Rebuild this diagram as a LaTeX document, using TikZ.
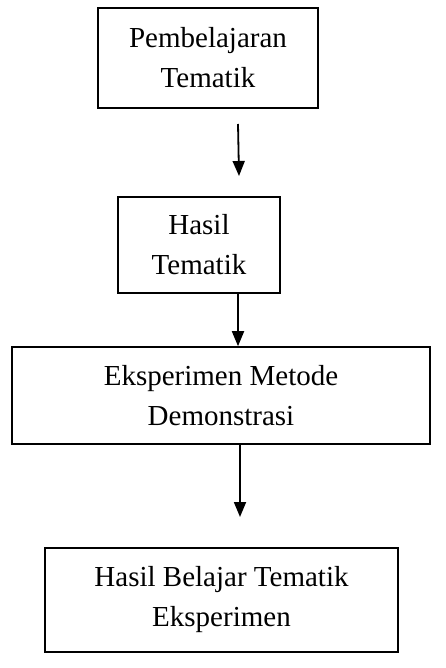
\documentclass[tikz,border=0pt]{standalone}
\usepackage{fontspec}
\setmainfont{Liberation Serif}
\usetikzlibrary{arrows.meta}
\begin{document}
\begin{tikzpicture}[x=1pt,y=-1pt,
  box/.style={draw=black, line width=1.6pt, rectangle, align=center, inner sep=0pt,
    font=\fontsize{29}{40}\selectfont},
  arr/.style={line width=1.8pt, -{Triangle[width=12pt,length=15pt]}}]
\useasboundingbox (0,0) rectangle (445,668);
\node[box, minimum width=220pt, minimum height=100pt] (b1) at (208,58) {Pembelajaran\\Tematik};
\node[box, minimum width=162pt, minimum height=96pt] (b2) at (199,245) {Hasil\\Tematik};
\node[box, minimum width=418pt, minimum height=97pt] (b3) at (221,395.5) {Eksperimen Metode\\Demonstrasi};
\node[box, minimum width=353pt, minimum height=104pt] (b4) at (221.5,600) {Hasil Belajar Tematik\\Eksperimen};
\coordinate (a1s) at (238,124);
\coordinate (a1e) at (239,176);
\coordinate (a3s) at (240,444);
\coordinate (a3e) at (240,517);
\draw[arr] (a1s) -- (a1e);
\draw[arr] (b2.south -| 238,0) -- (b3.north -| 238,0);
\draw[arr] (b3.south -| a3s) -- (a3e);
\end{tikzpicture}
\end{document}
